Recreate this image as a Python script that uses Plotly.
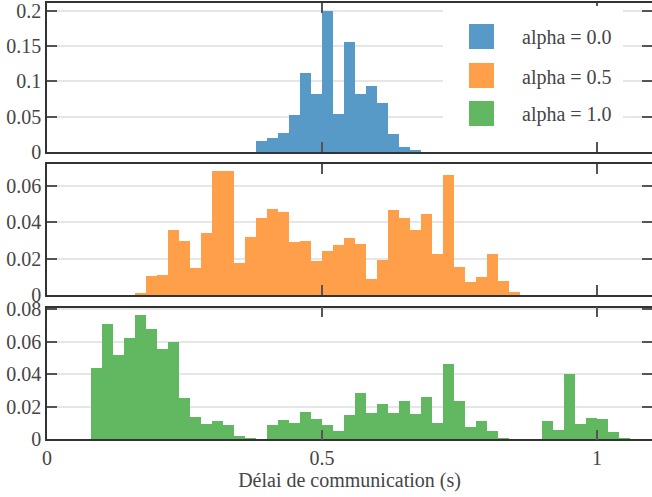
import plotly.graph_objects as go

# ---------------- data ----------------
bin_width = 0.02

start_a0 = 0.38
heights_a0 = [0.0156, 0.0200, 0.0270, 0.0525, 0.1120, 0.0820, 0.2000, 0.0540,
              0.1560, 0.0820, 0.0940, 0.0695, 0.0255, 0.0070, 0.0015]

start_a05 = 0.16
heights_a05 = [0.0006, 0.0105, 0.0110, 0.0359, 0.0298, 0.0149, 0.0343, 0.0685,
               0.0685, 0.0177, 0.0320, 0.0425, 0.0475, 0.0458, 0.0293, 0.0298,
               0.0188, 0.0243, 0.0276, 0.0314, 0.0280, 0.0088, 0.0193, 0.0468,
               0.0425, 0.0359, 0.0447, 0.0226, 0.0662, 0.0154, 0.0072, 0.0100,
               0.0226, 0.0077, 0.0017]

start_a1 = 0.08
heights_a1 = [0.0439, 0.0710, 0.0519, 0.0623, 0.0765, 0.0679, 0.0556, 0.0599,
              0.0254, 0.0143, 0.0100, 0.0113, 0.0088, 0.0026, 0.0008, 0.0000,
              0.0094, 0.0119, 0.0106, 0.0168, 0.0125, 0.0088, 0.0057, 0.0150,
              0.0285, 0.0162, 0.0223, 0.0162, 0.0236, 0.0156, 0.0260, 0.0106,
              0.0463, 0.0236, 0.0076, 0.0113, 0.0057, 0.0014, 0.0000, 0.0000,
              0.0000, 0.0113, 0.0063, 0.0402, 0.0100, 0.0131, 0.0125, 0.0051,
              0.0014]

labels = ["alpha = 0.0", "alpha = 0.5", "alpha = 1.0"]
x_ticks = [0, 0.5, 1]
x_ticktext = ["0", "0.5", "1"]
x_title = "Délai de communication (s)"

# ---------------- style ----------------
colors = ["#5799C7", "#FF9F4A", "#61B861"]
W, H = 652, 497
ML, MR, MT, MB = 47, 0, 0, 0
FONT = "Liberation Serif"
TXT = "#454545"
FS = 20


def px_x(p):
    return (p - ML) / (W - ML - MR)


def px_y(p):
    return (H - MB - p) / (H - MT - MB)


def lefts(start, n):
    return [round(start + i * bin_width, 4) for i in range(n)]


fig = go.Figure()
series = [(start_a0, heights_a0), (start_a05, heights_a05), (start_a1, heights_a1)]
for i, (s, h) in enumerate(series):
    ax = "" if i == 0 else str(i + 1)
    fig.add_trace(go.Bar(
        x=lefts(s, len(h)), y=h, width=bin_width, offset=0,
        marker=dict(color=colors[i], line=dict(width=0)),
        name=labels[i], xaxis="x" + ax, yaxis="y" + ax, showlegend=False,
    ))

# panel pixel extents (top, bottom)
panels = [(3, 152), (164, 295), (307.5, 439.3)]
yranges = [[0, 0.211], [0, 0.0721], [0, 0.081]]
ydticks = [0.05, 0.02, 0.02]

layout = dict(
    width=W, height=H,
    margin=dict(l=ML, r=MR, t=MT, b=MB),
    paper_bgcolor="white", plot_bgcolor="white",
    font=dict(family=FONT, size=FS, color=TXT),
    bargap=0, barmode="overlay", showlegend=False,
)
for i, (top, bot) in enumerate(panels):
    ax = "" if i == 0 else str(i + 1)
    layout["xaxis" + ax] = dict(
        domain=[0, 1], range=[0, 1.1], anchor="y" + ax,
        tickvals=x_ticks, ticktext=x_ticktext,
        showticklabels=(i == 2), ticks="inside", ticklen=10, tickwidth=2,
        tickcolor="#555555", showline=True, linecolor="#333333", linewidth=1.5,
        mirror="ticks", showgrid=False, zeroline=False, automargin=False,
        ticklabeloverflow="allow",
        tickfont=dict(family=FONT, size=FS, color=TXT),
    )
    layout["yaxis" + ax] = dict(
        domain=[px_y(bot), px_y(top)], range=yranges[i], anchor="x" + ax,
        dtick=ydticks[i], tick0=0, ticks="inside", ticklen=10, tickwidth=2,
        tickcolor="#555555", showline=True, linecolor="#333333", linewidth=1.5,
        mirror="ticks", showgrid=True, gridcolor="#E6E6E6", gridwidth=2,
        zeroline=False, automargin=False, ticklabeloverflow="allow",
        tickfont=dict(family=FONT, size=FS, color=TXT),
    )
layout["xaxis3"]["title"] = dict(text=x_title, font=dict(family=FONT, size=FS, color=TXT),
                                 standoff=1)

fig.update_layout(**layout)

# legend (manual): white box, swatches and labels
fig.add_shape(type="rect", xref="paper", yref="paper",
              x0=px_x(443), x1=px_x(623), y0=px_y(140), y1=px_y(6),
              fillcolor="white", line=dict(width=0), layer="above")
sw_tops = [24, 63, 101]
for i, t in enumerate(sw_tops):
    fig.add_shape(type="rect", xref="paper", yref="paper",
                  x0=px_x(469), x1=px_x(494), y0=px_y(t + 25), y1=px_y(t),
                  fillcolor=colors[i], line=dict(width=0), layer="above")
    fig.add_annotation(xref="paper", yref="paper", x=px_x(520), y=px_y(t + 14),
                       text=labels[i], showarrow=False, xanchor="left", yanchor="middle",
                       font=dict(family=FONT, size=FS, color=TXT))

fig.write_html("out.html",
               config={"displayModeBar": False},
               post_script="document.body.style.margin='0';document.body.style.padding='0';")
